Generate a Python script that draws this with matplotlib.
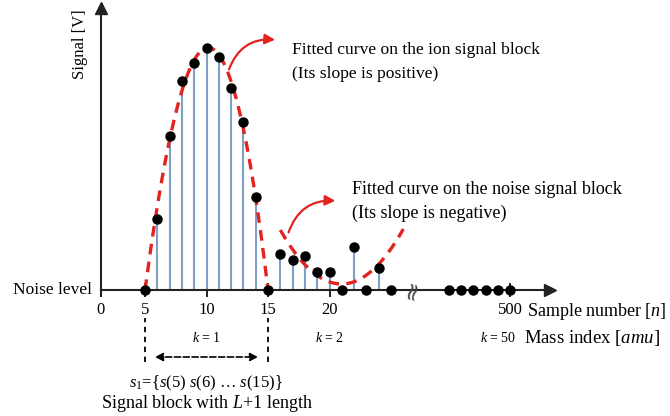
import numpy as np
import matplotlib.pyplot as plt

plt.rcParams['font.family'] = ['Liberation Serif', 'DejaVu Serif']
plt.rcParams['mathtext.fontset'] = 'custom'
plt.rcParams['mathtext.rm'] = 'Liberation Serif'
plt.rcParams['mathtext.it'] = 'Liberation Serif:italic'

# samples of the ion block, the noise block and the end of the record
ion_n = [5, 6, 7, 8, 9, 10, 11, 12, 13, 14, 15]
ion_v = [0, 71, 154, 209, 227, 242, 233, 202, 168, 93, 0]
noise_n = [16, 17, 18, 19, 20, 21, 22, 23, 24, 25]
noise_v = [36, 30, 34, 18, 18, 0, 43, 0, 22, 0]
tail_n = [495, 496, 497, 498, 499, 500]
tail_v = [0, 0, 0, 0, 0, 0]

# points the hand-drawn noise curve goes through
noise_fit_n = [16, 21, 26]
noise_fit_v = [60, 6, 61]

tick_n = [0, 5, 10, 15, 20, 500]
tick_labels = ['0', '5', '10', '15', '20', '500']
k_n = [10, 20, 500]
k_labels = ['$k$ = 1', '$k$ = 2', '$k$ = 50']

RED = '#e3231f'
STEM = '#7f9fc6'
GAP = 465.3  # the axis is broken after sample 25
Y0 = 1.4     # where the signal axis sits


def pos(n):
    n = np.asarray(n, dtype=float)
    return np.where(n > 25, n - GAP, np.maximum(n, Y0))


fig = plt.figure(figsize=(6.7, 4.16), dpi=100)
ax = fig.add_axes([0, 0, 1, 1])
ax.set_xlim(-6.79, 47.68)
ax.set_ylim(-126, 290)

for s in ['top', 'right']:
    ax.spines[s].set_visible(False)
ax.spines['left'].set_position(('data', Y0))
ax.spines['bottom'].set_position(('data', 0))
ax.spines['left'].set_bounds(-6, 282)
ax.spines['bottom'].set_bounds(Y0, 37.9)
for s in ['left', 'bottom']:
    ax.spines[s].set_linewidth(1.5)
    ax.spines[s].set_color('#222222')
ax.plot(37.9, 0, '>', color='#222222', ms=8, clip_on=False)
ax.plot(Y0, 282, '^', color='#222222', ms=8, clip_on=False)

ax.set_yticks([])
ax.set_xticks(pos(tick_n))
ax.set_xticklabels(tick_labels, fontsize=12)
ax.tick_params(axis='x', direction='inout', length=10, width=1.4, pad=4, color='#222222')

# stems and samples
stem_n = [n for n, v in zip(ion_n + noise_n, ion_v + noise_v) if v > 0]
stem_v = [v for v in ion_v + noise_v if v > 0]
ax.vlines(pos(stem_n), 0, stem_v, color=STEM, lw=1.5, zorder=2)
all_n = ion_n + noise_n + tail_n
all_v = ion_v + noise_v + tail_v
ax.plot(pos(all_n), all_v, 'o', color='black', ms=6.5, zorder=4, clip_on=False)

# fitted curves
w = np.ones(len(ion_n))
w[0] = w[-1] = 6
c = np.polyfit(ion_n, ion_v, 4, w=w)
xx = np.linspace(ion_n[0], ion_n[-1], 200)
ax.plot(xx, np.clip(np.polyval(c, xx), 0, None), '--', color=RED, lw=2.4,
        dashes=(3.2, 2.2), zorder=3)
c2 = np.polyfit(noise_fit_n, noise_fit_v, 2)
xx2 = np.linspace(noise_fit_n[0], noise_fit_n[-1], 200)
ax.plot(xx2, np.polyval(c2, xx2), '--', color=RED, lw=2.4,
        dashes=(3.2, 2.2), zorder=3)

# axis break mark
ax.text(26.8, 0, '\u2248', rotation=75, fontsize=18, ha='center', va='center',
        color='#444444', family='DejaVu Sans')

# callout arrows and notes
arrow = dict(arrowstyle='-|>', color=RED, lw=1.6, mutation_scale=15,
             connectionstyle='arc3,rad=-0.4')
ax.annotate('', xy=(15.8, 250), xytext=(11.75, 218), arrowprops=arrow)
ax.annotate('', xy=(20.7, 89), xytext=(16.6, 55), arrowprops=arrow)
ax.text(16.95, 240, 'Fitted curve on the ion signal block', fontsize=12.6, va='center')
ax.text(16.95, 216, '(Its slope is positive)', fontsize=12.6, va='center')
ax.text(21.8, 100, 'Fitted curve on the noise signal block', fontsize=13, va='center')
ax.text(21.8, 77, '(Its slope is negative)', fontsize=13, va='center')

# axis titles
ax.text(-0.28, 246, 'Signal [V]', rotation=90, fontsize=12, ha='center', va='center')
ax.text(0.69, 0, 'Noise level', fontsize=12.5, ha='right', va='center')
ax.text(36.05, -22, 'Sample number [$n$]', fontsize=13, ha='left', va='center')
ax.text(35.8, -48, 'Mass index [$amu$]', fontsize=13.5, ha='left', va='center')
for n, lab in zip(k_n, k_labels):
    x = pos([n])[0] - (1.0 if n > 25 else 0)
    ax.text(x, -48, lab, fontsize=10, ha='center', va='center')

# signal block marker
ax.vlines(pos([ion_n[0], ion_n[-1]]), -72, -28, color='black', lw=1.3, linestyles=(0, (3, 2.5)))
ax.annotate('', xy=(14.2, -67), xytext=(5.8, -67),
            arrowprops=dict(arrowstyle='<|-|>', color='black', lw=1.2, ls='--',
                            mutation_scale=12, shrinkA=0, shrinkB=0))
ax.text(9.9, -93, '$s_1$={$s$(5) $s$(6) \u2026 $s$(15)}', fontsize=12, ha='center', va='center')
ax.text(10.05, -113, 'Signal block with $L$+1 length', fontsize=13, ha='center', va='center')

fig.savefig('out.png', dpi=100)
